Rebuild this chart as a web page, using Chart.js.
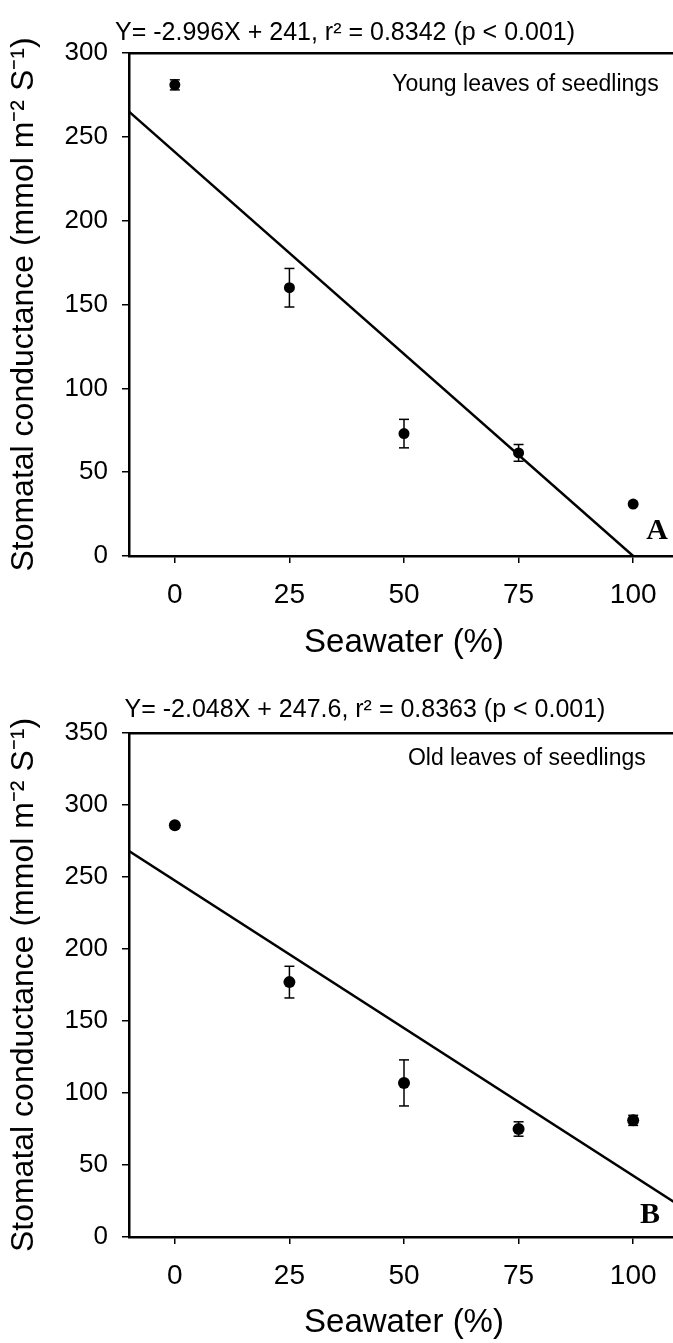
<!DOCTYPE html>
<html><head><meta charset="utf-8">
<script src="https://cdn.jsdelivr.net/npm/chart.js@4.4.1/dist/chart.umd.min.js"></script>
<style>
html,body{margin:0;padding:0;background:#fff;overflow:hidden;width:673px;height:1343px;}
.panel{position:absolute;left:0;}
</style></head><body>
<div class="panel" style="top:0;width:690px;height:670px"><canvas id="ca"></canvas></div>
<div class="panel" style="top:670px;width:730px;height:673px"><canvas id="cb"></canvas></div>
<script>
// ---- data ----
const seawater = [0, 25, 50, 75, 100];
const xTicks = [0, 25, 50, 75, 100];

// Panel A: young leaves
const youngMean = [281, 160, 73, 61.5, 31];
const youngErr  = [3, 11.5, 8.5, 5, 0];
const youngFitX = [-10, 100];
const youngFitY = [265, 0];
const youngYTicks = [0, 50, 100, 150, 200, 250, 300];

// Panel B: old leaves
const oldMean = [286, 177, 107, 75, 81];
const oldErr  = [0, 11, 16, 5, 3.5];
const oldFitX = [-10, 110];
const oldFitY = [268, 22];
const oldYTicks = [0, 50, 100, 150, 200, 250, 300, 350];

const FONT = "'Liberation Sans', Arial, sans-serif";
const SERIF = "'Liberation Serif', 'Times New Roman', serif";
Chart.defaults.color = '#000';

const annotate = {
  id: 'annotate',
  afterDatasetsDraw(chart, args, opts) {
    const {ctx, scales} = chart;
    (opts.items || []).forEach(it => {
      ctx.save();
      ctx.font = it.font;
      ctx.fillStyle = '#000';
      ctx.textAlign = 'center';
      ctx.textBaseline = 'middle';
      ctx.fillText(it.text, scales.x.getPixelForValue(it.x), scales.y.getPixelForValue(it.y));
      ctx.restore();
    });
  }
};

function makeChart(id, p) {
  const meanPts = seawater.map((v, i) => ({x: v, y: p.mean[i]}));
  const caps = [];
  const stemSets = [];
  seawater.forEach((v, i) => {
    if (p.err[i] > 0) {
      caps.push({x: v, y: p.mean[i] - p.err[i]}, {x: v, y: p.mean[i] + p.err[i]});
      stemSets.push({
        data: [{x: v, y: p.mean[i] - p.err[i]}, {x: v, y: p.mean[i] + p.err[i]}],
        showLine: true, borderColor: '#000', borderWidth: 1.5, pointRadius: 0
      });
    }
  });
  const fit = p.fitX.map((v, i) => ({x: v, y: p.fitY[i]}));
  return new Chart(document.getElementById(id), {
    type: 'scatter',
    data: {datasets: [
      {data: meanPts, pointRadius: p.r, pointBackgroundColor: '#000', pointBorderColor: '#000', pointBorderWidth: 0, showLine: false},
      {data: caps, pointStyle: 'line', pointRadius: 5, pointBorderColor: '#000', pointBorderWidth: 1.5, showLine: false},
      ...stemSets,
      {data: fit, showLine: true, borderColor: '#000', borderWidth: 2.5, pointRadius: 0}
    ]},
    plugins: [annotate],
    options: {
      responsive: true, maintainAspectRatio: false, animation: false, events: [],
      layout: {padding: {left: p.padLeft, right: p.padRight, top: 0, bottom: 0}},
      plugins: {
        legend: {display: false}, tooltip: {enabled: false},
        title: {display: true, text: p.title, color: '#000', font: {size: 25, family: FONT, weight: 'normal'},
                padding: {top: p.titleTop, bottom: p.titleBottom}},
        annotate: {items: p.notes}
      },
      scales: {
        x: {
          type: 'linear', position: 'bottom', min: -10, max: 110,
          afterBuildTicks: s => { s.ticks = xTicks.map(v => ({value: v})); },
          afterFit: s => { s.height = p.xHeight; },
          ticks: {font: {size: 28, family: FONT}, color: '#000', padding: 15, maxRotation: 0, autoSkip: false},
          grid: {display: true, drawOnChartArea: false, drawTicks: true, tickLength: 7, color: '#000', lineWidth: 1.5},
          border: {display: true, color: '#000', width: 2.5},
          title: {display: true, text: 'Seawater (%)', color: '#000', font: {size: 33, family: FONT}, padding: {top: 0, bottom: p.xTitlePad}}
        },
        x2: {
          type: 'linear', position: 'top', axis: 'x', min: -10, max: 110,
          afterFit: s => { s.height = 0; },
          ticks: {display: false},
          grid: {display: false},
          border: {display: true, color: '#000', width: 2.5}
        },
        y: {
          type: 'linear', min: 0, max: p.yMax,
          afterBuildTicks: s => { s.ticks = p.yTicks.map(v => ({value: v})); },
          afterFit: s => { s.width = 129 - p.padLeft; },
          ticks: {font: {size: 26, family: FONT}, color: '#000', padding: 14},
          grid: {display: true, drawOnChartArea: false, drawTicks: true, tickLength: 7, color: '#000', lineWidth: 1.5},
          border: {display: true, color: '#000', width: 2.5},
          title: {display: true, text: 'Stomatal conductance (mmol m\u207B\u00B2 S\u207B\u00B9)', color: '#000',
                  font: {size: 32, family: FONT}, padding: {top: 5 - p.padLeft, bottom: 0}}
        }
      }
    }
  });
}

makeChart('ca', {
  mean: youngMean, err: youngErr, fitX: youngFitX, fitY: youngFitY,
  yMax: 300, yTicks: youngYTicks, r: 5.5,
  title: 'Y= -2.996X + 241, r\u00B2 = 0.8342 (p < 0.001)',
  padLeft: 11, padRight: 11, titleTop: 18, titleBottom: 5, xHeight: 114, xTitlePad: 7,
  notes: [
    {text: 'Young leaves of seedlings', x: 76.5, y: 281, font: '23px ' + FONT},
    {text: 'A', x: 105.2, y: 14.9, font: 'bold 30px ' + SERIF}
  ]
});

makeChart('cb', {
  mean: oldMean, err: oldErr, fitX: oldFitX, fitY: oldFitY,
  yMax: 350, yTicks: oldYTicks, r: 6,
  title: 'Y= -2.048X + 247.6, r\u00B2 = 0.8363 (p < 0.001)',
  padLeft: 51, padRight: 51, titleTop: 25, titleBottom: 8, xHeight: 106, xTitlePad: 0,
  notes: [
    {text: 'Old leaves of seedlings', x: 76.8, y: 332, font: '23px ' + FONT},
    {text: 'B', x: 103.7, y: 15.4, font: 'bold 30px ' + SERIF}
  ]
});
</script>
</body></html>
